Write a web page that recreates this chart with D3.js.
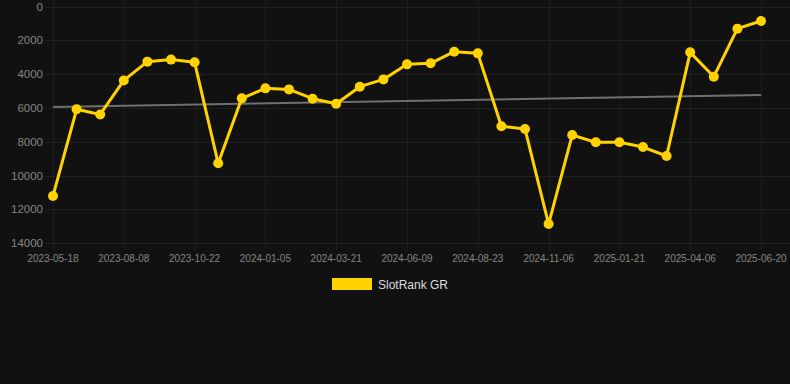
<!DOCTYPE html>
<html>
<head>
<meta charset="utf-8">
<script src="https://cdn.jsdelivr.net/npm/d3@7"></script>
<style>
  html, body { margin: 0; padding: 0; background: #111111; }
  svg { display: block; font-family: "Liberation Sans", Arial, sans-serif; }
</style>
</head>
<body>
<svg id="chart" width="790" height="384"></svg>
<script>
// dates of each sample (labelled every third one on the axis)
const dates = [
  "2023-05-18", "2023-06-14", "2023-07-11", "2023-08-08", "2023-09-02", "2023-09-27",
  "2023-10-22", "2023-11-16", "2023-12-11", "2024-01-05", "2024-01-30", "2024-02-25",
  "2024-03-21", "2024-04-16", "2024-05-13", "2024-06-09", "2024-07-04", "2024-07-29",
  "2024-08-23", "2024-09-17", "2024-10-12", "2024-11-06", "2024-12-01", "2024-12-27",
  "2025-01-21", "2025-02-14", "2025-03-11", "2025-04-06", "2025-05-01", "2025-05-26",
  "2025-06-20"
];
const rankValues = [
  11200, 6080, 6380, 4370, 3260, 3140, 3300, 9270, 5430, 4840,
  4900, 5450, 5750, 4740, 4310, 3420, 3360, 2670, 2770, 7080,
  7240, 12860, 7600, 8030, 8030, 8310, 8840, 2710, 4150, 1310,
  860
];
const trendValues = [5940, 5230]; // first and last point of the trend line
const yTicks = [0, 2000, 4000, 6000, 8000, 10000, 12000, 14000];
const seriesName = "SlotRank GR";

const svg = d3.select("#chart");
const plotLeft = 53, plotRight = 761, plotTop = 6.5, plotBottom = 243.3;

const x = d3.scalePoint().domain(dates).range([plotLeft, plotRight]);
const y = d3.scaleLinear().domain([0, 14000]).range([plotTop, plotBottom]);
const labelDates = dates.filter((d, i) => i % 3 === 0);

// grid
svg.append("g")
  .selectAll("line")
  .data(yTicks)
  .join("line")
    .attr("x1", 46).attr("x2", 790)
    .attr("y1", d => Math.round(y(d)) + 0.5).attr("y2", d => Math.round(y(d)) + 0.5)
    .attr("stroke", "#202020").attr("stroke-width", 1);

svg.append("g")
  .selectAll("line")
  .data(labelDates)
  .join("line")
    .attr("x1", d => Math.round(x(d)) + 0.5).attr("x2", d => Math.round(x(d)) + 0.5)
    .attr("y1", 0).attr("y2", plotBottom + 7)
    .attr("stroke", "#1d1d1d").attr("stroke-width", 1);

// y labels
svg.append("g")
  .selectAll("text")
  .data(yTicks)
  .join("text")
    .attr("x", 43)
    .attr("y", d => y(d))
    .attr("dy", "0.35em")
    .attr("text-anchor", "end")
    .attr("fill", "#858585")
    .attr("font-size", 11.5)
    .text(d => d);

// x labels
svg.append("g")
  .selectAll("text")
  .data(labelDates)
  .join("text")
    .attr("x", d => x(d))
    .attr("y", 262)
    .attr("text-anchor", "middle")
    .attr("fill", "#858585")
    .attr("font-size", 10)
    .text(d => d);

// trend line
svg.append("line")
  .attr("x1", x(dates[0])).attr("y1", y(trendValues[0]))
  .attr("x2", x(dates[dates.length - 1])).attr("y2", y(trendValues[1]))
  .attr("stroke", "#707070").attr("stroke-width", 2);

// series
const pts = dates.map((d, i) => ({ date: d, value: rankValues[i] }));

svg.append("path")
  .datum(pts)
  .attr("fill", "none")
  .attr("stroke", "#FFD200")
  .attr("stroke-width", 3)
  .attr("stroke-linejoin", "round")
  .attr("d", d3.line().x(d => x(d.date)).y(d => y(d.value)));

svg.append("g")
  .selectAll("circle")
  .data(pts)
  .join("circle")
    .attr("cx", d => x(d.date))
    .attr("cy", d => y(d.value))
    .attr("r", 5)
    .attr("fill", "#FFD200");

// legend
svg.append("rect")
  .attr("x", 332).attr("y", 278)
  .attr("width", 40).attr("height", 12)
  .attr("fill", "#FFD200");
svg.append("text")
  .attr("x", 378).attr("y", 289)
  .attr("fill", "#dddddd")
  .attr("font-size", 12)
  .text(seriesName);
</script>
</body>
</html>
